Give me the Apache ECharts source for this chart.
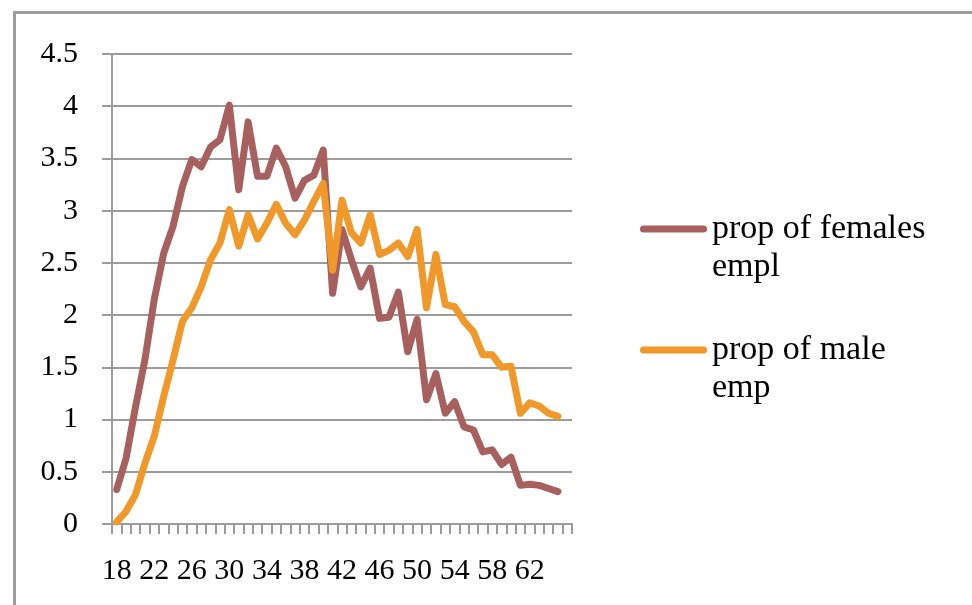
<!DOCTYPE html>
<html>
<head>
<meta charset="utf-8">
<script src="https://cdn.jsdelivr.net/npm/echarts@6/dist/echarts.min.js"></script>
<style>
html,body{margin:0;padding:0;background:#fff;}
#chart{width:972px;height:605px;}
</style>
</head>
<body>
<div id="chart"></div>
<script>
// Categories (ages); final category is blank as in the reference
const categories = ['18','19','20','21','22','23','24','25','26','27','28','29','30','31','32','33','34','35','36','37','38','39','40','41','42','43','44','45','46','47','48','49','50','51','52','53','54','55','56','57','58','59','60','61','62','63','64','65',''];

const femaleName = 'prop of females empl';
const maleName = 'prop of male emp';

const femaleValues = [0.33,0.63,1.12,1.57,2.15,2.59,2.85,3.23,3.49,3.42,3.61,3.68,4.01,3.20,3.85,3.33,3.33,3.60,3.42,3.12,3.29,3.34,3.58,2.21,2.82,2.53,2.27,2.45,1.97,1.98,2.22,1.65,1.96,1.19,1.44,1.06,1.17,0.93,0.90,0.69,0.71,0.57,0.64,0.37,0.38,0.37,0.34,0.31];

const maleValues = [0.02,0.12,0.28,0.58,0.84,1.22,1.57,1.94,2.07,2.27,2.53,2.69,3.01,2.66,2.96,2.73,2.88,3.06,2.88,2.77,2.91,3.09,3.26,2.43,3.10,2.79,2.69,2.96,2.58,2.62,2.69,2.56,2.82,2.07,2.58,2.10,2.08,1.94,1.84,1.62,1.62,1.50,1.51,1.06,1.16,1.13,1.06,1.03];

const yTicks = {min: 0, max: 4.5, interval: 0.5};

const FONT = 'Liberation Serif';
const GRAY = '#9c9c9c';

const chart = echarts.init(document.getElementById('chart'), null, {renderer: 'canvas'});
chart.setOption({
  animation: false,
  backgroundColor: '#ffffff',
  graphic: [{
    type: 'rect',
    left: 12, top: 10,
    shape: {width: 1000, height: 700},
    style: {fill: 'none', stroke: GRAY, lineWidth: 3},
    silent: true
  }],
  grid: {left: 112, top: 54, width: 460, height: 470},
  legend: {
    orient: 'vertical',
    left: 635,
    top: 167,
    itemWidth: 67,
    itemHeight: 7,
    itemGap: 7,
    icon: 'path://M3.5,0 H63.5 A3.5,3.5 0 0 1 63.5,7 H3.5 A3.5,3.5 0 0 1 3.5,0 Z',
    formatter: function (name) { return '\n' + name.replace(/ (\S+)$/, '\n$1'); },
    textStyle: {
      fontFamily: FONT,
      fontSize: 34,
      lineHeight: 38,
      color: '#000'
    },
    data: [femaleName, maleName]
  },
  xAxis: {
    type: 'category',
    data: categories,
    boundaryGap: true,
    axisLine: {show: true, lineStyle: {color: GRAY, width: 2}},
    axisTick: {show: true, interval: 0, length: 10, lineStyle: {color: GRAY, width: 2}},
    axisLabel: {interval: 3, margin: 32, fontFamily: FONT, fontSize: 30, color: '#000'},
    splitLine: {show: false}
  },
  yAxis: {
    type: 'value',
    min: yTicks.min,
    max: yTicks.max,
    interval: yTicks.interval,
    axisLine: {show: true, lineStyle: {color: GRAY, width: 2}},
    axisTick: {show: true, length: 10, lineStyle: {color: GRAY, width: 2}},
    axisLabel: {margin: 34, fontFamily: FONT, fontSize: 30, color: '#000'},
    splitLine: {show: true, lineStyle: {color: GRAY, width: 2}}
  },
  series: [
    {
      name: femaleName,
      type: 'line',
      data: femaleValues,
      symbol: 'none',
      color: '#A8605E',
      lineStyle: {width: 7, cap: 'round', join: 'round', color: '#A8605E'}
    },
    {
      name: maleName,
      type: 'line',
      data: maleValues,
      symbol: 'none',
      color: '#F0982A',
      lineStyle: {width: 7, cap: 'round', join: 'round', color: '#F0982A'}
    }
  ]
});
</script>
</body>
</html>
